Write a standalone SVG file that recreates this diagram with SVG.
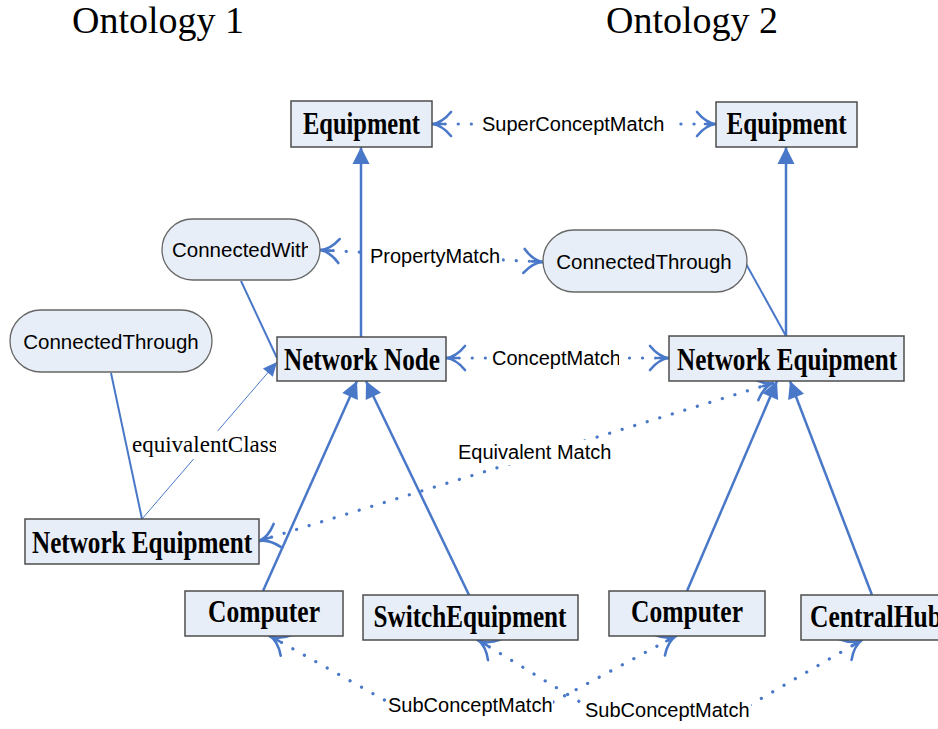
<svg xmlns="http://www.w3.org/2000/svg" width="938" height="729" viewBox="0 0 938 729">
  <style>
    .title { font-family: "Liberation Serif", "Times New Roman", serif; font-size: 38px; fill: #000; }
    .box { fill: #e8eef7; stroke: #4d4d4d; stroke-width: 1.5; }
    .pill { fill: #e8eef7; stroke: #666; stroke-width: 1.3; }
    .bname { font-family: "Liberation Serif", "Times New Roman", serif; font-weight: bold; font-size: 32px; fill: #000; text-anchor: middle; }
    .pname { font-family: "Liberation Sans", Arial, sans-serif; font-size: 20.5px; fill: #000; }
    .lbl { font-family: "Liberation Sans", Arial, sans-serif; font-size: 20px; fill: #000; }
    .lblser { font-family: "Liberation Serif", "Times New Roman", serif; font-size: 23px; fill: #000; }
    .solid { fill: none; stroke: #4a78c8; stroke-width: 2.5; }
    .thin { fill: none; stroke: #4a78c8; stroke-width: 1; }
    .dots { fill: none; stroke: #4a78c8; stroke-width: 3.2; stroke-linecap: round; stroke-dasharray: 0.1 13; marker-start: url(#fork); marker-end: url(#fork); }
    .bg { fill: #fff; }
  </style>
  <defs>
    <marker id="tri" markerUnits="userSpaceOnUse" markerWidth="40" markerHeight="40" viewBox="-20 -20 40 40" refX="0" refY="0" orient="auto" overflow="visible">
      <path d="M0,0 L-17,-8.5 L-17,8.5 Z" fill="#4a78c8"/>
    </marker>
    <marker id="triSmall" markerUnits="userSpaceOnUse" markerWidth="40" markerHeight="40" viewBox="-20 -20 40 40" refX="0" refY="0" orient="auto" overflow="visible">
      <path d="M0,0 L-14,-6.5 L-14,6.5 Z" fill="#4a78c8"/>
    </marker>
    <marker id="fork" markerUnits="userSpaceOnUse" markerWidth="40" markerHeight="40" viewBox="-20 -20 40 40" refX="0" refY="0" orient="auto-start-reverse" overflow="visible">
      <path d="M0,0 Q-10,-1 -19,-12 M0,0 Q-10,1 -19,12 M0,0 H-11" fill="none" stroke="#4a78c8" stroke-width="2.6" stroke-linecap="round"/>
    </marker>
    <clipPath id="clipCW"><rect x="160" y="215" width="148" height="70"/></clipPath>
    <clipPath id="clipCM"><rect x="480" y="340" width="139" height="40"/></clipPath>
    <clipPath id="clipEC"><rect x="120" y="425" width="156" height="40"/></clipPath>
    <clipPath id="clipSC1"><rect x="380" y="690" width="173" height="39"/></clipPath>
    <clipPath id="clipSC2"><rect x="580" y="690" width="171" height="39"/></clipPath>
  </defs>

  <!-- headings -->
  <text class="title" x="72" y="33">Ontology 1</text>
  <text class="title" x="606" y="33">Ontology 2</text>

  <!-- connectors -->
  <g id="connectors">
    <!-- subclass links -->
    <path class="solid" d="M361,337 V147" marker-end="url(#tri)"/>
    <path class="solid" d="M786,336 V147" marker-end="url(#tri)"/>
    <path class="solid" d="M263,591 L357,381" marker-end="url(#tri)"/>
    <path class="solid" d="M469,595 L366,381" marker-end="url(#tri)"/>
    <path class="solid" d="M687,591 L777,381" marker-end="url(#tri)"/>
    <path class="solid" d="M872,595 L790,381" marker-end="url(#tri)"/>
    <!-- property links -->
    <path class="solid" style="stroke-width:2" d="M241,281 L277,358"/>
    <path class="solid" style="stroke-width:2" d="M745,262 L786,336"/>
    <path class="solid" style="stroke-width:2" d="M111,373 L142,519"/>
    <path class="thin" d="M142,519 L277,362" marker-end="url(#triSmall)"/>

    <!-- match links -->
    <path class="dots" d="M432,124 H716"/>
    <path class="dots" d="M320,250 L543,262"/>
    <path class="dots" d="M446,358 H669"/>
    <path class="dots" d="M259,541 L773,383"/>
    <path class="dots" d="M270,636 L388,702 M553,702 L676,636"/>
    <path class="dots" d="M478,640 L585,705 M750,705 L862,640"/>

    <!-- labels -->
    <rect class="bg" x="479" y="112" width="191" height="25"/>
    <text class="lbl" x="482" y="131">SuperConceptMatch</text>
    <rect class="bg" x="368" y="244" width="134" height="25"/>
    <text class="lbl" x="370" y="263">PropertyMatch</text>
    <rect class="bg" x="490" y="346" width="129" height="25"/>
    <text class="lbl" x="492" y="365" clip-path="url(#clipCM)">ConceptMatch</text>
    <rect class="bg" x="456" y="440" width="159" height="25"/>
    <text class="lbl" x="458" y="459">Equivalent Match</text>
    <rect class="bg" x="131" y="431" width="145" height="28"/>
    <text class="lblser" x="132" y="452" clip-path="url(#clipEC)">equivalentClass</text>
    <rect class="bg" x="386" y="692" width="167" height="28"/>
    <text class="lbl" x="388" y="712" clip-path="url(#clipSC1)">SubConceptMatch</text>
    <rect class="bg" x="583" y="697" width="168" height="28"/>
    <text class="lbl" x="585" y="717" clip-path="url(#clipSC2)">SubConceptMatch</text>
  </g>

  <!-- ontology 1 -->
  <g id="o1-equipment">
    <rect class="box" x="291" y="101" width="141" height="46"/>
    <text class="bname" x="361.5" y="134" textLength="117" lengthAdjust="spacingAndGlyphs">Equipment</text>
  </g>
  <g id="o1-connectedwith">
    <rect class="pill" x="162" y="219" width="158" height="61" rx="30.5"/>
    <text class="pname" x="172" y="257" clip-path="url(#clipCW)">ConnectedWith</text>
  </g>
  <g id="o1-connectedthrough">
    <rect class="pill" x="10" y="310" width="202" height="62" rx="31"/>
    <text class="pname" x="111" y="348.5" text-anchor="middle">ConnectedThrough</text>
  </g>
  <g id="o1-networknode">
    <rect class="box" x="277" y="337" width="169" height="44"/>
    <text class="bname" x="362" y="370" textLength="156" lengthAdjust="spacingAndGlyphs">Network Node</text>
  </g>
  <g id="o1-networkequipment">
    <rect class="box" x="25" y="519" width="234" height="45"/>
    <text class="bname" x="142" y="553" textLength="220" lengthAdjust="spacingAndGlyphs">Network Equipment</text>
  </g>
  <g id="o1-computer">
    <rect class="box" x="185" y="591" width="158" height="45"/>
    <text class="bname" x="264" y="622" textLength="112" lengthAdjust="spacingAndGlyphs">Computer</text>
  </g>
  <g id="o1-switchequipment">
    <rect class="box" x="363" y="595" width="215" height="45"/>
    <text class="bname" x="470" y="627" textLength="193" lengthAdjust="spacingAndGlyphs">SwitchEquipment</text>
  </g>

  <!-- ontology 2 -->
  <g id="o2-equipment">
    <rect class="box" x="716" y="102" width="141" height="45"/>
    <text class="bname" x="786.5" y="134" textLength="120" lengthAdjust="spacingAndGlyphs">Equipment</text>
  </g>
  <g id="o2-connectedthrough">
    <rect class="pill" x="543" y="230" width="204" height="62" rx="31"/>
    <text class="pname" x="644" y="268.5" text-anchor="middle">ConnectedThrough</text>
  </g>
  <g id="o2-networkequipment">
    <rect class="box" x="669" y="336" width="235" height="45"/>
    <text class="bname" x="787" y="370" textLength="220" lengthAdjust="spacingAndGlyphs">Network Equipment</text>
  </g>
  <g id="o2-computer">
    <rect class="box" x="609" y="591" width="156" height="45"/>
    <text class="bname" x="687" y="622" textLength="112" lengthAdjust="spacingAndGlyphs">Computer</text>
  </g>
  <g id="o2-centralhub">
    <rect class="box" x="801" y="595" width="150" height="45"/>
    <text class="bname" x="876" y="627" textLength="132" lengthAdjust="spacingAndGlyphs">CentralHub</text>
  </g>
</svg>
